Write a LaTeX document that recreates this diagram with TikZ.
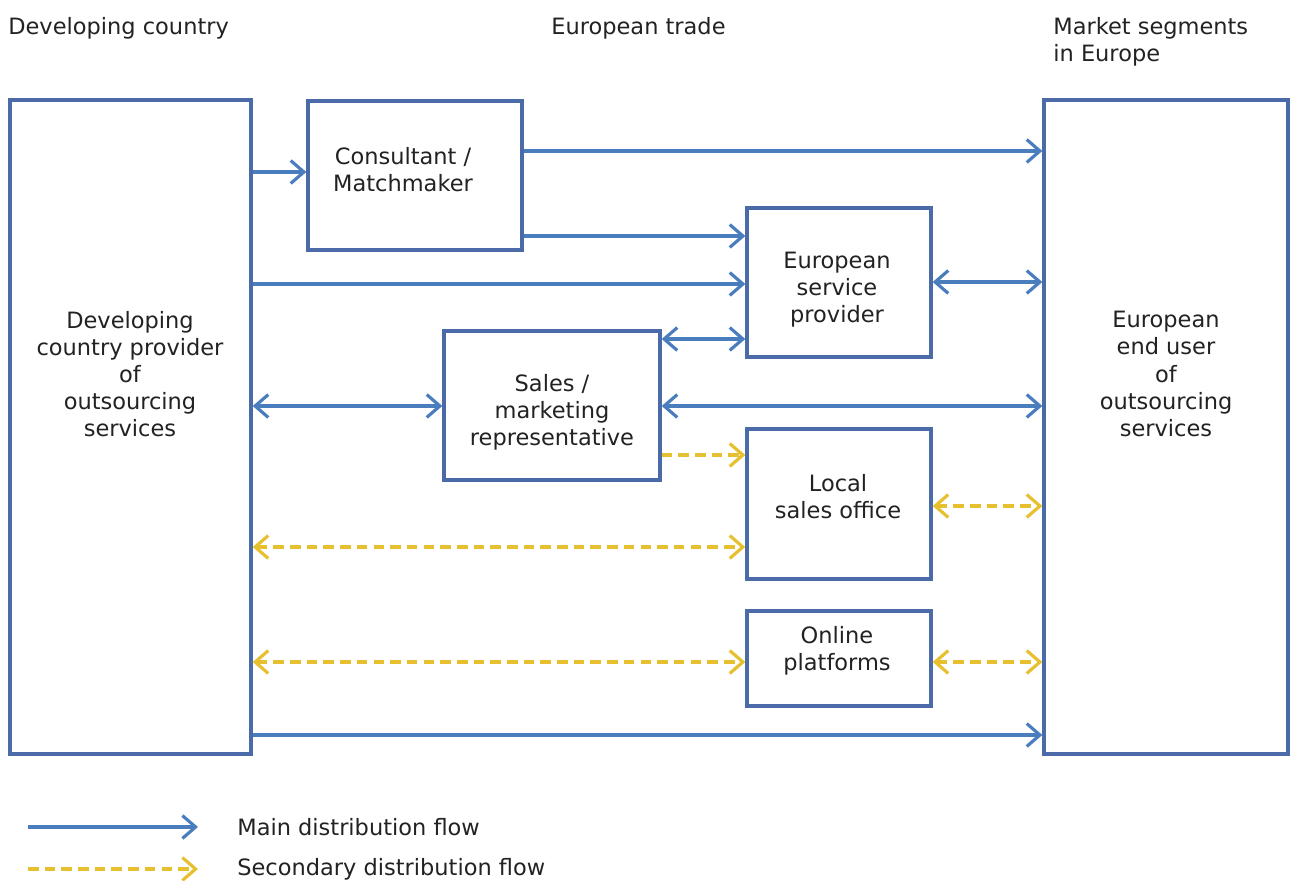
\documentclass[tikz,border=0pt]{standalone}
\usepackage{fontspec}
\setmainfont{DejaVu Sans}
\usetikzlibrary{arrows.meta,fit}
\definecolor{boxblue}{HTML}{4A6BA8}
\definecolor{flowblue}{HTML}{4A7DBE}
\definecolor{flowyellow}{HTML}{E6C02E}
\definecolor{txt}{HTML}{222222}
\tikzset{
  box/.style={draw=boxblue, line width=1.9pt, inner sep=0pt, fill=white},
  lbl/.style={text=txt, font=\fontsize{12.8}{15.4}\selectfont, align=center, inner sep=0pt},
  hdr/.style={text=txt, font=\fontsize{12.8}{15.4}\selectfont, align=left, inner sep=0pt, anchor=west},
  main/.style={draw=flowblue, line width=1.8pt, -{Straight Barb[length=7.5pt,width=13pt]}},
  mainboth/.style={draw=flowblue, line width=1.8pt, {Straight Barb[length=7.5pt,width=13pt]}-{Straight Barb[length=7.5pt,width=13pt]}},
  sec/.style={draw=flowyellow, line width=1.8pt, dash pattern=on 6pt off 3.5pt, -{Straight Barb[length=7.5pt,width=13pt]}},
  secboth/.style={draw=flowyellow, line width=1.8pt, dash pattern=on 6pt off 3.5pt, {Straight Barb[length=7.5pt,width=13pt]}-{Straight Barb[length=7.5pt,width=13pt]}},
}
\begin{document}
\begin{tikzpicture}[x=0.02cm,y=-0.02cm]
\useasboundingbox (0,0) rectangle (1290,881);
% headers
\node[hdr] (h1) at (8,28) {Developing country};
\node[hdr] (h2) at (551,28) {European trade};
\node[hdr, anchor=north west] (h3) at (1053,17) {Market segments\\in Europe};
% boxes
\node[box, fit={(10,100) (251,754)}] (dev) {};
\node[box, fit={(1044,100) (1288,754)}] (eu) {};
\node[box, fit={(308,101) (522,250)}] (cons) {};
\node[box, fit={(747,208) (931,357)}] (esp) {};
\node[box, fit={(444,331) (660,480)}] (sales) {};
\node[box, fit={(747,429) (931,579)}] (local) {};
\node[box, fit={(747,611) (931,706)}] (online) {};
% box texts
\node[lbl] (tdev) at (130,374) {Developing\\country provider\\of\\outsourcing\\services};
\node[lbl] (teu) at (1166,374) {European\\end user\\of\\outsourcing\\services};
\node[lbl] (tcons) at (403,170) {Consultant /\\Matchmaker};
\node[lbl] (tesp) at (837,290) {European\\service\\provider};
\node[lbl] (tsales) at (552,412) {Sales /\\marketing\\representative};
\node[lbl] (tlocal) at (838,497) {Local\\sales office};
\node[lbl] (tonline) at (837,651) {Online\\platforms};
% connectors
\draw[main] (dev.east |- 0,172) -- (cons.west |- 0,172);
\draw[main] (cons.east |- 0,151) -- (eu.west |- 0,151);
\draw[main] (cons.east |- 0,236) -- (esp.west |- 0,236);
\draw[main] (dev.east |- 0,284) -- (esp.west |- 0,284);
\draw[mainboth] (esp.east |- 0,282) -- (eu.west |- 0,282);
\draw[mainboth] (sales.east |- 0,339) -- (esp.west |- 0,339);
\draw[mainboth] (dev.east |- 0,406) -- (sales.west |- 0,406);
\draw[mainboth] (sales.east |- 0,406) -- (eu.west |- 0,406);
\draw[sec] (sales.east |- 0,455) -- (local.west |- 0,455);
\draw[secboth] (local.east |- 0,506) -- (eu.west |- 0,506);
\draw[secboth] (dev.east |- 0,547) -- (local.west |- 0,547);
\draw[secboth] (dev.east |- 0,662) -- (online.west |- 0,662);
\draw[secboth] (online.east |- 0,662) -- (eu.west |- 0,662);
\draw[main] (dev.east |- 0,735) -- (eu.west |- 0,735);
% legend
\coordinate (l1a) at (28,827);
\coordinate (l1b) at (198,827);
\coordinate (l2a) at (28,869);
\coordinate (l2b) at (198,869);
\draw[main] (l1a) -- (l1b);
\draw[sec] (l2a) -- (l2b);
\node[hdr] (leg1) at (237,827) {Main distribution flow};
\node[hdr] (leg2) at (237,869) {Secondary distribution flow};
\end{tikzpicture}
\end{document}
